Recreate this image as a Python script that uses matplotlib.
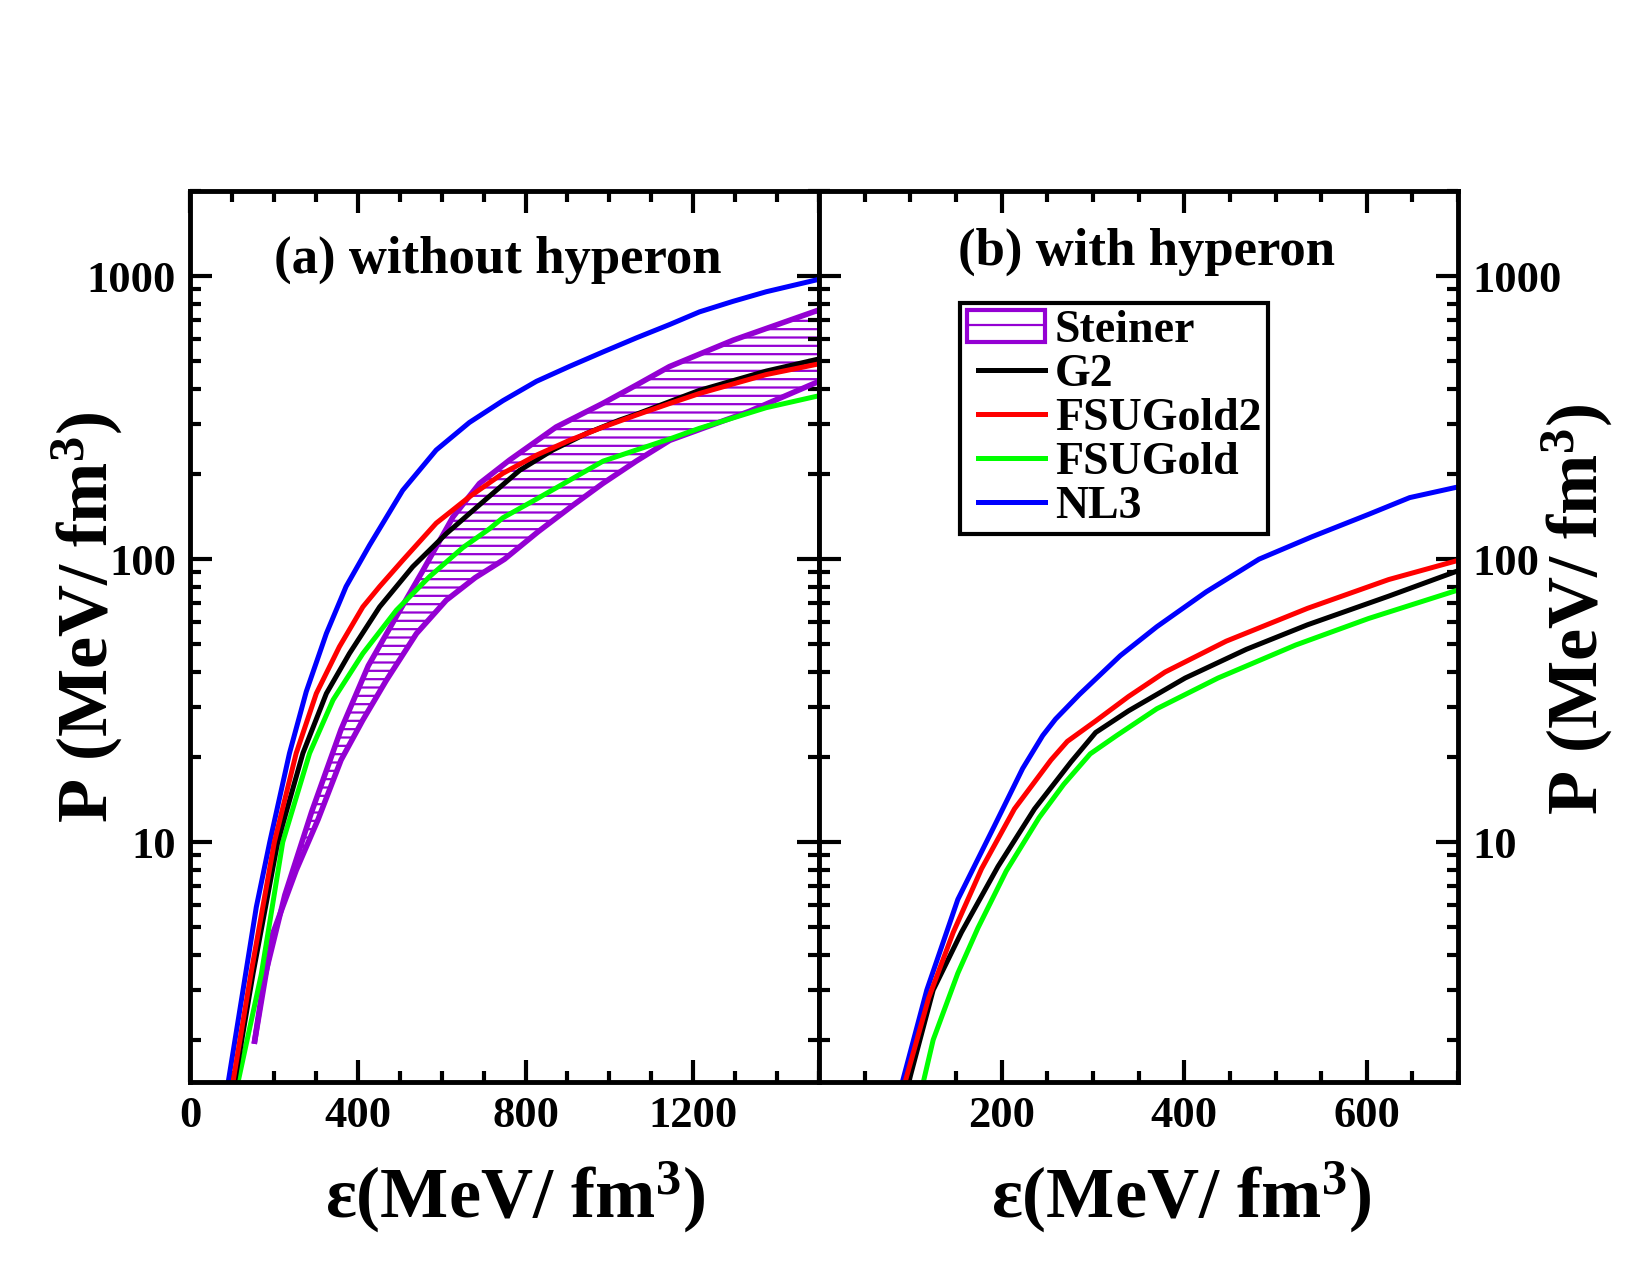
import numpy as np
import matplotlib
matplotlib.use('Agg')
import matplotlib.pyplot as plt
from matplotlib.ticker import MultipleLocator, LogLocator, NullFormatter
from matplotlib.patches import Patch
from matplotlib.lines import Line2D
from matplotlib.legend_handler import HandlerLine2D

plt.rcParams['font.family'] = ['Liberation Serif', 'DejaVu Serif']
plt.rcParams['font.weight'] = 'bold'
plt.rcParams['mathtext.fontset'] = 'custom'
plt.rcParams['mathtext.rm'] = 'Liberation Serif:bold'
plt.rcParams['mathtext.bf'] = 'Liberation Serif:bold'
plt.rcParams['mathtext.default'] = 'rm'
plt.rcParams['hatch.linewidth'] = 1.6

# ---- (a) without hyperon: energy density (MeV/fm^3) vs pressure (MeV/fm^3)
g2_a_e = [106, 150, 209, 269, 325, 380, 452, 531, 611, 706, 786, 865, 945, 1024, 1064, 1215, 1374, 1500]
g2_a_p = [1.41, 3.42, 10, 20.6, 33.5, 46.4, 67.8, 94, 123, 163, 206, 243, 278, 310, 325, 395, 462, 510]

fsu2_a_e = [102, 145, 201, 253, 301, 356, 412, 452, 507, 587, 666, 746, 826, 905, 985, 1064, 1144, 1215, 1374, 1500]
fsu2_a_p = [1.41, 3.42, 10, 20.6, 33.5, 49, 67.8, 80, 99, 134, 166, 201, 233, 263, 293, 323, 355, 385, 449, 490]

fsu_a_e = [114, 170, 221, 285, 341, 412, 492, 571, 651, 714, 746, 826, 905, 985, 1064, 1144, 1215, 1374, 1500]
fsu_a_p = [1.41, 3.42, 10, 20.6, 31.8, 46.4, 66, 86.7, 110, 128, 140, 163, 190, 222, 243, 266, 290, 343, 378]

nl3_a_e = [90, 126, 158, 190, 237, 277, 325, 372, 428, 507, 587, 666, 746, 826, 905, 985, 1064, 1144, 1215, 1295, 1374, 1500]
nl3_a_p = [1.39, 2.98, 5.9, 10, 20.6, 34, 54.6, 80, 112, 175, 243, 304, 363, 425, 480, 540, 605, 675, 748, 815, 881, 975]

# Steiner band (upper and lower edges)
st_up_e = [154, 175, 226, 290, 360, 425, 490, 555, 627, 690, 762, 873, 984, 1064, 1143, 1295, 1500]
st_up_p = [1.98, 3.2, 6.5, 12.8, 25, 42, 62, 91, 141, 185, 224, 293, 355, 412, 479, 594, 760]
st_lo_e = [154, 197, 253, 305, 360, 412, 468, 540, 611, 680, 750, 830, 913, 984, 1064, 1144, 1334, 1500]
st_lo_p = [1.98, 4.74, 7.95, 12, 19.5, 27, 37.3, 54.6, 71.6, 86, 100, 125, 155, 185, 222, 263, 333, 425]

# ---- (b) with hyperon
g2_b_e = [98, 125, 156, 196, 236, 276, 303, 339, 401, 468, 535, 624, 700]
g2_b_p = [1.41, 3.0, 4.8, 8.2, 13.1, 19.2, 24.4, 29.1, 38, 48, 58.6, 74, 91]

fsu2_b_e = [94, 120, 147, 178, 214, 254, 272, 303, 339, 379, 446, 535, 624, 700]
fsu2_b_p = [1.41, 2.81, 4.8, 8.05, 13.1, 19.5, 22.7, 26.8, 32.7, 39.9, 51.3, 67, 84.7, 99]

fsu_b_e = [114, 125, 152, 174, 205, 241, 268, 297, 326, 370, 437, 522, 602, 700]
fsu_b_p = [1.41, 2.0, 3.44, 4.97, 7.9, 12.2, 16, 20.5, 23.8, 29.6, 38, 49.7, 61.7, 77.8]

nl3_b_e = [91, 118, 152, 192, 223, 245, 259, 285, 330, 370, 424, 482, 540, 602, 647, 700]
nl3_b_p = [1.41, 3.0, 6.27, 11.4, 18.2, 23.8, 27.2, 33.2, 45.6, 57.7, 76.6, 100, 120, 144, 165, 180]

purple = '#9400d3'
lw = 3.6

fig = plt.figure(figsize=(16.5, 12.75), dpi=100)
ax1 = fig.add_axes([0.1152, 0.1514, 0.3812, 0.6988])
ax2 = fig.add_axes([0.4964, 0.1514, 0.3873, 0.6988])

# panel (a)
band_e = st_up_e + st_lo_e[::-1]
band_p = st_up_p + st_lo_p[::-1]
ax1.fill(band_e, band_p, facecolor='none', edgecolor=purple, hatch='--', linewidth=0)
ax1.plot(st_up_e, st_up_p, color=purple, lw=4)
ax1.plot(st_lo_e, st_lo_p, color=purple, lw=4)
ax1.plot(nl3_a_e, nl3_a_p, color='#0000ff', lw=lw)
ax1.plot(fsu_a_e, fsu_a_p, color='#00ff00', lw=lw)
ax1.plot(g2_a_e, g2_a_p, color='black', lw=lw)
ax1.plot(fsu2_a_e, fsu2_a_p, color='#ff0000', lw=lw)

# panel (b)
ax2.plot(nl3_b_e, nl3_b_p, color='#0000ff', lw=lw)
ax2.plot(fsu_b_e, fsu_b_p, color='#00ff00', lw=lw)
ax2.plot(g2_b_e, g2_b_p, color='black', lw=lw)
ax2.plot(fsu2_b_e, fsu2_b_p, color='#ff0000', lw=lw)

for ax in (ax1, ax2):
    ax.set_yscale('log')
    ax.set_ylim(1.42, 2000)
    ax.set_yticks([10, 100, 1000])
    ax.set_yticklabels(['10', '100', '1000'])
    ax.yaxis.set_minor_locator(LogLocator(base=10, subs=np.arange(2, 10)))
    ax.yaxis.set_minor_formatter(NullFormatter())
    ax.tick_params(which='both', direction='in', top=True, right=True,
                   width=3, labelsize=32, pad=10)
    ax.tick_params(which='major', length=16)
    ax.tick_params(which='minor', length=8)
    for s in ax.spines.values():
        s.set_linewidth(3.5)

ax1.set_xlim(0, 1500)
ax1.xaxis.set_major_locator(MultipleLocator(400))
ax1.xaxis.set_minor_locator(MultipleLocator(100))

ax2.set_xlim(0, 700)
ax2.set_xticks([0, 200, 400, 600])
ax2.set_xticklabels(['', '200', '400', '600'])
ax2.xaxis.set_minor_locator(MultipleLocator(50))
ax2.tick_params(axis='y', labelleft=False, labelright=True)

# panel titles
fig.text(0.3018, 0.786, '(a) without hyperon', fontsize=38, ha='center', va='baseline')
fig.text(0.6947, 0.792, '(b) with hyperon', fontsize=38, ha='center', va='baseline')

# axis labels
xlab = 'ε(MeV/ fm$^{\\mathrm{3}}$)'
ylab = 'P (MeV/ fm$^{\\mathrm{3}}$)'
fig.text(0.312, 0.0447, xlab, fontsize=52, ha='center', va='baseline')
fig.text(0.716, 0.0447, xlab, fontsize=52, ha='center', va='baseline')
fig.text(0.053, 0.516, ylab, fontsize=52, rotation=90, ha='center', va='center')
fig.text(0.956, 0.522, ylab, fontsize=52, rotation=90, ha='center', va='center')

# legend
handles = [
    Patch(facecolor='white', edgecolor=purple, hatch='-', linewidth=3),
    Line2D([], [], color='black', lw=lw),
    Line2D([], [], color='#ff0000', lw=lw),
    Line2D([], [], color='#00ff00', lw=lw),
    Line2D([], [], color='#0000ff', lw=lw),
]
labels = ['Steiner', 'G2', 'FSUGold2', 'FSUGold', 'NL3']
leg = ax2.legend(handles, labels, loc='upper left', bbox_to_anchor=(0.2207, 0.8743),
                 borderaxespad=0, fontsize=33, frameon=True, fancybox=False,
                 edgecolor='black', framealpha=1, handlelength=1.7,
                 handletextpad=0.22, borderpad=0.15, labelspacing=0.04,
                 handler_map={Line2D: HandlerLine2D(xpad=0.25)})
leg.get_frame().set_linewidth(3)

fig.savefig('out.png', dpi=100)
